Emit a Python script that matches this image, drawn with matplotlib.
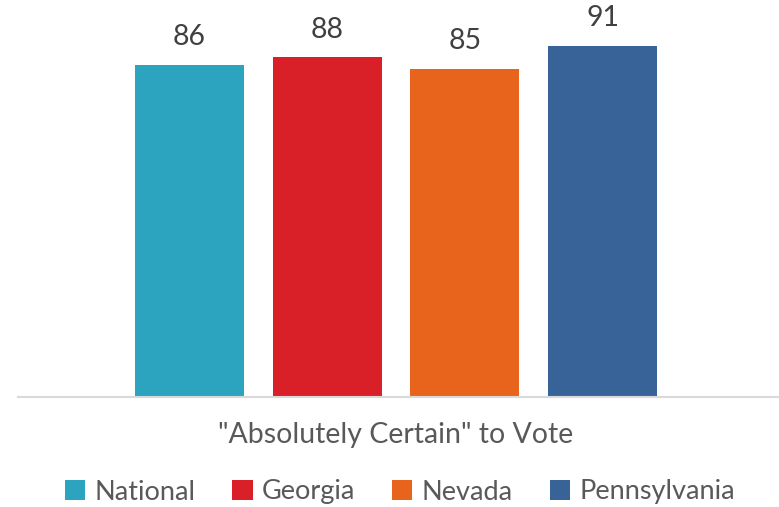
import matplotlib
matplotlib.use("Agg")
import matplotlib.pyplot as plt

series = ["National", "Georgia", "Nevada", "Pennsylvania"]
values = [86, 88, 85, 91]
colors = ["#2CA3BF", "#D91F28", "#E8641D", "#386399"]
category = '"Absolutely Certain" to Vote'

plt.rcParams['font.family'] = ['Lato', 'DejaVu Sans']

fig = plt.figure(figsize=(7.79, 5.07), dpi=100)
ax = fig.add_axes([18/779, 1-397/507, 1-18/779, 386/507])

pos = list(range(len(values)))
bars = ax.bar(pos, values, width=109/138, color=colors, label=series)
for x, v in zip(pos, values):
    ax.text(x, v + 3.8, str(v), ha='center', va='bottom', fontsize=20.5, color='#404040')

ax.set_xlim(-1.243, 4.279)
ax.set_ylim(0, 100)
for s in ['top', 'right', 'left']:
    ax.spines[s].set_visible(False)
ax.spines['bottom'].set_color('#D9D9D9')
ax.spines['bottom'].set_linewidth(1.5)
ax.set_xticks([])
ax.set_yticks([])

fig.text(396/779, 1-435/507, category, ha='center', va='center', fontsize=20.5, color='#595959')

leg = fig.legend(bars, series, loc='center', bbox_to_anchor=(400/779, 1-492/507), ncol=4,
                 frameon=False, fontsize=19.5, handlelength=0.75, handleheight=0.75,
                 handletextpad=0.35, columnspacing=1.35, labelcolor='#595959')

fig.savefig("out.png", dpi=100)
